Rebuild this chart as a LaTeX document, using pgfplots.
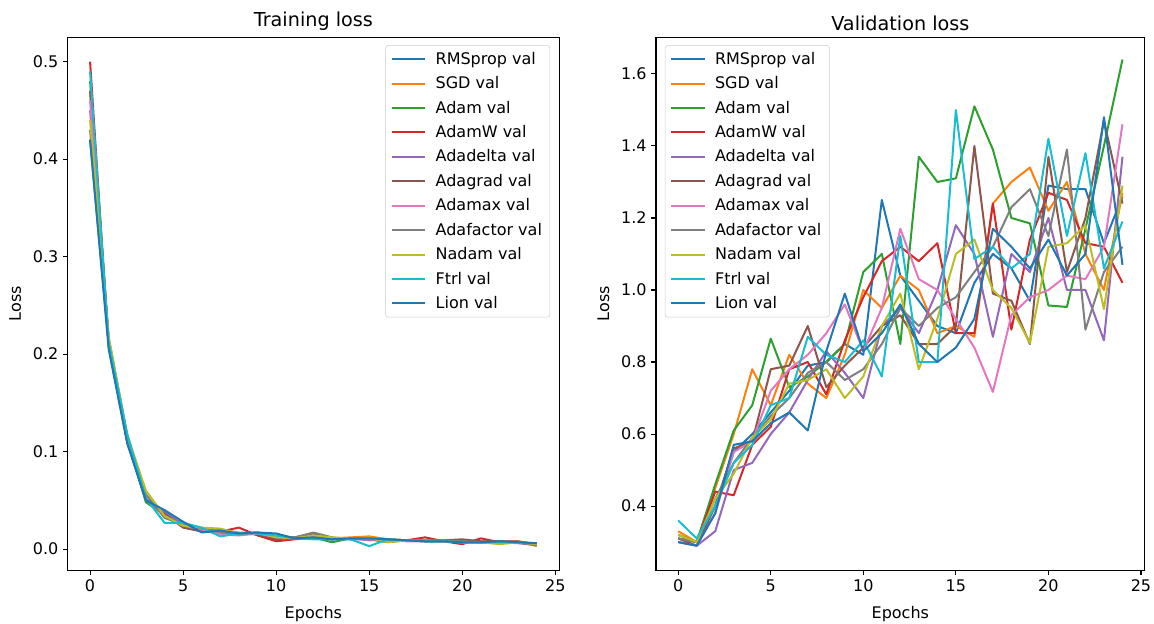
\documentclass[border=0pt]{standalone}
\usepackage{fontspec}
\setmainfont{DejaVu Sans}
\usepackage{pgfplots}
\usepackage{pgfplotstable}
\pgfplotsset{compat=1.18}

\definecolor{C0}{HTML}{1F77B4}
\definecolor{C1}{HTML}{FF7F0E}
\definecolor{C2}{HTML}{2CA02C}
\definecolor{C3}{HTML}{D62728}
\definecolor{C4}{HTML}{9467BD}
\definecolor{C5}{HTML}{8C564B}
\definecolor{C6}{HTML}{E377C2}
\definecolor{C7}{HTML}{7F7F7F}
\definecolor{C8}{HTML}{BCBD22}
\definecolor{C9}{HTML}{17BECF}

\pgfplotstableread{
e rms sgd adam adamw adadelta adagrad adamax adafactor nadam ftrl lion
0 0.420 0.470 0.480 0.500 0.450 0.470 0.460 0.430 0.440 0.490 0.420
1 0.210 0.215 0.212 0.208 0.214 0.216 0.210 0.213 0.218 0.212 0.205
2 0.110 0.115 0.112 0.110 0.113 0.116 0.111 0.114 0.117 0.118 0.108
3 0.050 0.055 0.048 0.052 0.053 0.051 0.054 0.056 0.060 0.052 0.050
4 0.036 0.034 0.035 0.034 0.038 0.036 0.033 0.032 0.034 0.027 0.040
5 0.026 0.024 0.023 0.024 0.025 0.022 0.024 0.025 0.024 0.027 0.028
6 0.018 0.020 0.021 0.019 0.019 0.018 0.020 0.021 0.022 0.022 0.017
7 0.019 0.020 0.018 0.018 0.016 0.019 0.015 0.018 0.021 0.013 0.019
8 0.016 0.017 0.016 0.022 0.015 0.016 0.014 0.015 0.016 0.016 0.016
9 0.016 0.017 0.017 0.014 0.016 0.015 0.016 0.017 0.017 0.016 0.017
10 0.013 0.012 0.013 0.008 0.011 0.010 0.012 0.013 0.012 0.014 0.016
11 0.011 0.012 0.011 0.010 0.011 0.012 0.012 0.012 0.011 0.011 0.011
12 0.012 0.013 0.012 0.012 0.013 0.016 0.013 0.017 0.014 0.010 0.012
13 0.010 0.011 0.007 0.011 0.010 0.011 0.011 0.012 0.012 0.010 0.010
14 0.011 0.012 0.011 0.011 0.011 0.011 0.010 0.010 0.011 0.010 0.011
15 0.010 0.013 0.010 0.010 0.009 0.010 0.010 0.011 0.012 0.003 0.011
16 0.009 0.010 0.007 0.009 0.010 0.010 0.009 0.009 0.007 0.010 0.010
17 0.009 0.009 0.009 0.009 0.009 0.009 0.008 0.009 0.009 0.009 0.009
18 0.009 0.008 0.009 0.012 0.008 0.009 0.008 0.008 0.009 0.008 0.008
19 0.008 0.008 0.008 0.008 0.008 0.009 0.008 0.009 0.008 0.008 0.008
20 0.008 0.007 0.008 0.005 0.007 0.010 0.007 0.008 0.007 0.007 0.007
21 0.007 0.008 0.007 0.011 0.007 0.008 0.007 0.007 0.007 0.007 0.007
22 0.007 0.008 0.006 0.007 0.007 0.008 0.006 0.007 0.005 0.007 0.008
23 0.007 0.008 0.007 0.007 0.006 0.008 0.007 0.007 0.007 0.007 0.007
24 0.005 0.003 0.005 0.005 0.004 0.005 0.005 0.004 0.005 0.006 0.006
}\traintab

\pgfplotstableread{
e rms sgd adam adamw adadelta adagrad adamax adafactor nadam ftrl lion
0 0.31 0.33 0.32 0.31 0.30 0.31 0.30 0.31 0.32 0.36 0.30
1 0.30 0.30 0.30 0.30 0.29 0.29 0.29 0.30 0.30 0.31 0.29
2 0.40 0.45 0.46 0.44 0.33 0.40 0.38 0.42 0.42 0.40 0.38
3 0.55 0.60 0.61 0.43 0.50 0.56 0.55 0.52 0.49 0.52 0.57
4 0.60 0.78 0.68 0.57 0.52 0.58 0.58 0.59 0.59 0.57 0.58
5 0.66 0.68 0.865 0.62 0.60 0.78 0.72 0.65 0.64 0.68 0.63
6 0.72 0.82 0.73 0.78 0.66 0.79 0.78 0.70 0.74 0.70 0.66
7 0.79 0.74 0.76 0.80 0.75 0.90 0.82 0.77 0.75 0.87 0.61
8 0.80 0.70 0.80 0.71 0.83 0.73 0.88 0.80 0.78 0.82 0.83
9 0.85 0.82 0.85 0.86 0.77 0.79 0.96 0.75 0.70 0.80 0.99
10 0.82 1.00 1.05 0.98 0.70 0.84 0.83 0.78 0.76 0.86 0.83
11 1.25 0.95 1.10 1.08 0.90 0.90 0.95 0.85 0.90 0.76 0.88
12 1.04 1.04 0.85 1.12 0.95 0.93 1.17 0.95 0.99 1.15 0.96
13 0.97 1.00 1.37 1.08 0.88 0.85 1.03 0.90 0.78 0.80 0.85
14 0.90 0.88 1.30 1.13 1.00 0.85 1.00 0.95 0.92 0.80 0.80
15 0.88 0.90 1.31 0.88 1.18 0.90 0.92 0.98 1.10 1.50 0.84
16 1.02 0.87 1.51 0.88 1.10 1.40 0.84 1.05 1.14 1.086 0.92
17 1.10 1.24 1.39 1.24 0.87 0.99 0.717 1.12 1.00 1.12 1.17
18 1.06 1.30 1.20 0.89 1.10 0.97 0.93 1.23 0.95 1.06 1.12
19 0.97 1.34 1.185 1.14 1.05 0.85 0.98 1.28 0.853 1.10 1.06
20 1.29 1.22 0.957 1.27 1.20 1.37 1.00 1.15 1.12 1.42 1.14
21 1.28 1.30 0.953 1.25 1.00 1.05 1.04 1.39 1.13 1.15 1.04
22 1.28 1.10 1.17 1.13 1.00 1.20 1.03 0.89 1.18 1.38 1.10
23 1.13 1.00 1.40 1.12 0.86 1.47 1.12 1.05 0.947 1.06 1.48
24 1.26 1.27 1.64 1.02 1.37 1.24 1.46 1.12 1.29 1.19 1.07
}\valtab

\pgfplotsset{
  lossaxis/.style={
    scale only axis,
    height=400pt,
    xmin=-1.2, xmax=25.2,
    xtick={0,5,10,15,20,25},
    tick align=outside,
    tick pos=left,
    major tick length=3.5pt,
    axis line style={line width=0.8pt},
    every tick/.style={black, line width=0.8pt},
    tick label style={font=\fontsize{12}{14.4}\selectfont},
    /pgf/number format/assume math mode=true,
    label style={font=\fontsize{12}{14.4}\selectfont},
    xlabel style={yshift=-4pt},
    ylabel style={yshift=2pt},
    title style={font=\fontsize{14.4}{17.3}\selectfont, yshift=-4.5pt},
    xlabel={Epochs},
    ylabel={Loss},
    legend cell align=left,
    legend style={draw=black!20, rounded corners=2pt, fill=white, fill opacity=0.8, text opacity=1,
      font=\fontsize{12}{14.4}\selectfont, row sep=3.7pt, column sep=5pt, inner xsep=4pt, inner ysep=3pt,
      nodes={inner sep=2pt}},
    legend image code/.code={\draw[#1] (0pt,0pt) -- (25pt,0pt);},
    every axis plot/.append style={line width=1.5pt, no markers, line join=round},
  },
}

\begin{document}
\begin{tikzpicture}
\useasboundingbox (-50.8pt,-40.1pt) rectangle (814.7pt,427.9pt);
\begin{axis}[lossaxis,
  at={(0pt,0pt)}, anchor=south west,
  width=368.5pt,
  ymin=-0.022, ymax=0.525,
  ytick={0,0.1,0.2,0.3,0.4,0.5},
  yticklabel style={/pgf/number format/fixed, /pgf/number format/precision=1, /pgf/number format/fixed zerofill},
  title={Training loss},
  legend style={at={(0.982,0.985)}, anchor=north east},
]
\addplot[C0] table[x=e,y=rms] {\traintab}; \addlegendentry{RMSprop val}
\addplot[C1] table[x=e,y=sgd] {\traintab}; \addlegendentry{SGD val}
\addplot[C2] table[x=e,y=adam] {\traintab}; \addlegendentry{Adam val}
\addplot[C3] table[x=e,y=adamw] {\traintab}; \addlegendentry{AdamW val}
\addplot[C4] table[x=e,y=adadelta] {\traintab}; \addlegendentry{Adadelta val}
\addplot[C5] table[x=e,y=adagrad] {\traintab}; \addlegendentry{Adagrad val}
\addplot[C6] table[x=e,y=adamax] {\traintab}; \addlegendentry{Adamax val}
\addplot[C7] table[x=e,y=adafactor] {\traintab}; \addlegendentry{Adafactor val}
\addplot[C8] table[x=e,y=nadam] {\traintab}; \addlegendentry{Nadam val}
\addplot[C9] table[x=e,y=ftrl] {\traintab}; \addlegendentry{Ftrl val}
\addplot[C0] table[x=e,y=lion] {\traintab}; \addlegendentry{Lion val}
\end{axis}
\begin{axis}[lossaxis,
  at={(441.2pt,0pt)}, anchor=south west,
  width=366.5pt,
  ymin=0.221, ymax=1.702,
  ytick={0.4,0.6,0.8,1.0,1.2,1.4,1.6},
  yticklabel style={/pgf/number format/fixed, /pgf/number format/precision=1, /pgf/number format/fixed zerofill},
  title={Validation loss},
  legend style={at={(0.018,0.985)}, anchor=north west},
]
\addplot[C0] table[x=e,y=rms] {\valtab}; \addlegendentry{RMSprop val}
\addplot[C1] table[x=e,y=sgd] {\valtab}; \addlegendentry{SGD val}
\addplot[C2] table[x=e,y=adam] {\valtab}; \addlegendentry{Adam val}
\addplot[C3] table[x=e,y=adamw] {\valtab}; \addlegendentry{AdamW val}
\addplot[C4] table[x=e,y=adadelta] {\valtab}; \addlegendentry{Adadelta val}
\addplot[C5] table[x=e,y=adagrad] {\valtab}; \addlegendentry{Adagrad val}
\addplot[C6] table[x=e,y=adamax] {\valtab}; \addlegendentry{Adamax val}
\addplot[C7] table[x=e,y=adafactor] {\valtab}; \addlegendentry{Adafactor val}
\addplot[C8] table[x=e,y=nadam] {\valtab}; \addlegendentry{Nadam val}
\addplot[C9] table[x=e,y=ftrl] {\valtab}; \addlegendentry{Ftrl val}
\addplot[C0] table[x=e,y=lion] {\valtab}; \addlegendentry{Lion val}
\end{axis}
\end{tikzpicture}
\end{document}
